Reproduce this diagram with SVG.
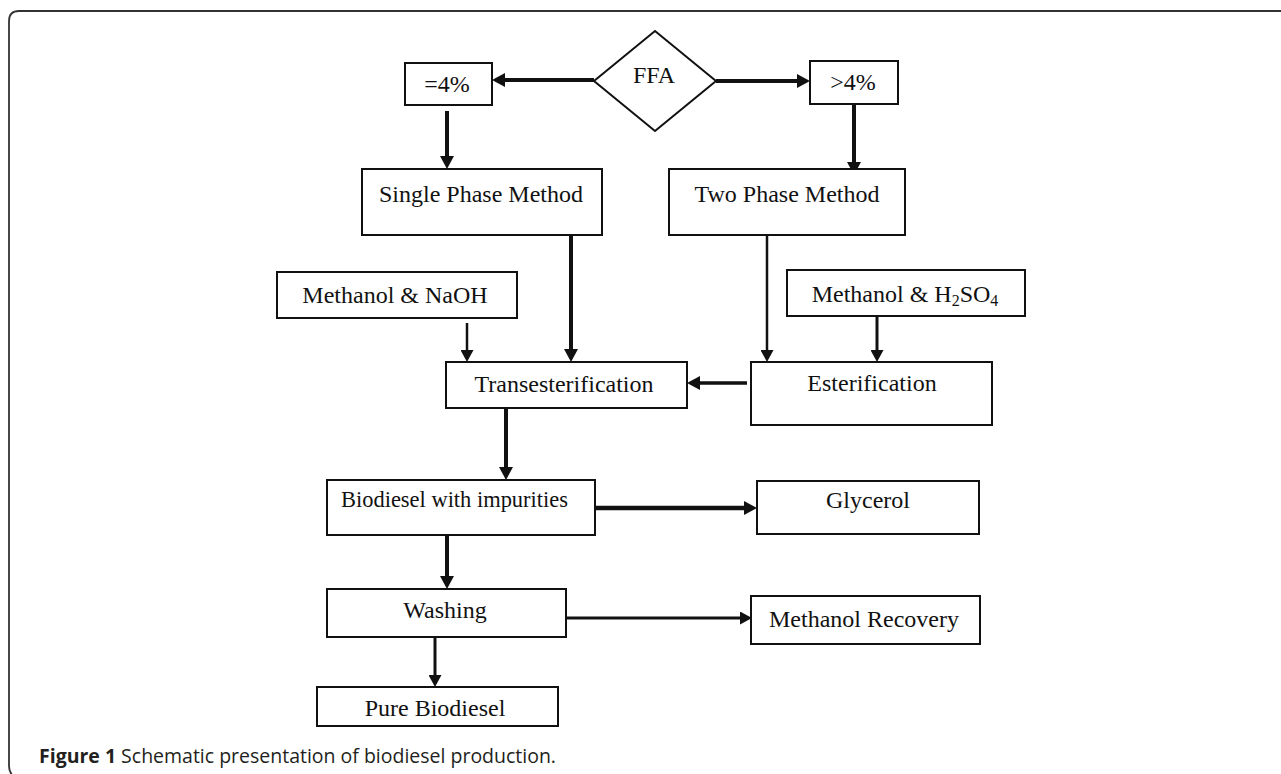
<svg xmlns="http://www.w3.org/2000/svg" width="1281" height="774" viewBox="0 0 1281 774">
<defs>
<style>
.box{fill:#fff;stroke:#111;stroke-width:2}
.t{font-family:"Liberation Serif","Times New Roman",serif;font-size:24px;fill:#111;text-anchor:middle}
.c{stroke:#111;fill:none}
.cap{font-family:"Open Sans","Liberation Sans",sans-serif;font-size:20px;fill:#231f20}
</style>
<marker id="ah" markerUnits="userSpaceOnUse" markerWidth="13" markerHeight="14" viewBox="0 0 13 14" refX="0" refY="7" orient="auto">
<path d="M0,0 L13,7 L0,14 Z" fill="#111"/>
</marker>
<marker id="as" markerUnits="userSpaceOnUse" markerWidth="12" markerHeight="13" viewBox="0 0 12 13" refX="0" refY="6.5" orient="auto">
<path d="M0,0 L12,6.5 L0,13 Z" fill="#111"/>
</marker>
</defs>
<rect width="1281" height="774" fill="#fff"/>
<path d="M1281,11 H19 Q9,11 9,21 V766 Q9,772 13,776" fill="none" stroke="#333" stroke-width="1.8"/>

<g id="connectors">
<line class="c" x1="594" y1="80" x2="505" y2="80" stroke-width="4" marker-end="url(#ah)"/>
<line class="c" x1="716" y1="81" x2="797" y2="81" stroke-width="4" marker-end="url(#ah)"/>
<line class="c" x1="447" y1="111" x2="447" y2="156" stroke-width="4" marker-end="url(#ah)"/>
<line class="c" x1="854" y1="104" x2="854" y2="162" stroke-width="4" marker-end="url(#ah)"/>
<line class="c" x1="571" y1="233" x2="571" y2="349" stroke-width="4" marker-end="url(#ah)"/>
<line class="c" x1="467" y1="323" x2="467" y2="350" stroke-width="2.5" marker-end="url(#as)"/>
<line class="c" x1="767" y1="233" x2="767" y2="350" stroke-width="2.5" marker-end="url(#as)"/>
<line class="c" x1="877" y1="315" x2="877" y2="350" stroke-width="3" marker-end="url(#as)"/>
<line class="c" x1="747" y1="383" x2="700" y2="383" stroke-width="3.5" marker-end="url(#ah)"/>
<line class="c" x1="506" y1="408" x2="506" y2="467" stroke-width="4" marker-end="url(#ah)"/>
<line class="c" x1="569" y1="508" x2="744" y2="508" stroke-width="4.5" marker-end="url(#ah)"/>
<line class="c" x1="447" y1="535" x2="447" y2="576" stroke-width="4" marker-end="url(#ah)"/>
<line class="c" x1="566" y1="618" x2="740" y2="618" stroke-width="3" marker-end="url(#as)"/>
<line class="c" x1="435" y1="637" x2="435" y2="675" stroke-width="3" marker-end="url(#as)"/>
</g>

<g id="ffa">
<polygon class="box" points="655,31 716,81 655,131 594,81"/>
<text class="t" x="654" y="83">FFA</text>
</g>
<g id="le4">
<rect class="box" x="405" y="63" width="87" height="42"/>
<text class="t" x="447" y="92">=4%</text>
</g>
<g id="gt4">
<rect class="box" x="810" y="61" width="88" height="43"/>
<text class="t" x="853" y="90">&gt;4%</text>
</g>
<g id="single">
<rect class="box" x="362" y="169" width="240" height="66"/>
<text class="t" x="481" y="202">Single Phase Method</text>
</g>
<g id="two">
<rect class="box" x="669" y="169" width="236" height="66"/>
<text class="t" x="787" y="202">Two Phase Method</text>
</g>
<g id="naoh">
<rect class="box" x="277" y="272" width="240" height="46"/>
<text class="t" x="395" y="303">Methanol &amp; NaOH</text>
</g>
<g id="h2so4">
<rect class="box" x="787" y="270" width="238" height="46"/>
<text class="t" x="905" y="302">Methanol &amp; H<tspan font-size="16" dy="4">2</tspan><tspan dy="-4">SO</tspan><tspan font-size="16" dy="4">4</tspan></text>
</g>
<g id="trans">
<rect class="box" x="446" y="362" width="241" height="46"/>
<text class="t" x="564" y="392">Transesterification</text>
</g>
<g id="ester">
<rect class="box" x="751" y="362" width="241" height="63"/>
<text class="t" x="872" y="391">Esterification</text>
</g>
<g id="biodiesel">
<rect class="box" x="327" y="480" width="268" height="55"/>
<text class="t" x="341" y="507" style="text-anchor:start" textLength="227" lengthAdjust="spacingAndGlyphs">Biodiesel with impurities</text>
</g>
<g id="glycerol">
<rect class="box" x="757" y="481" width="222" height="53"/>
<text class="t" x="868" y="508">Glycerol</text>
</g>
<g id="washing">
<rect class="box" x="327" y="589" width="239" height="48"/>
<text class="t" x="445" y="618">Washing</text>
</g>
<g id="recovery">
<rect class="box" x="751" y="596" width="229" height="48"/>
<text class="t" x="864" y="627">Methanol Recovery</text>
</g>
<g id="pure">
<rect class="box" x="317" y="687" width="241" height="39"/>
<text class="t" x="435" y="716">Pure Biodiesel</text>
</g>

<text class="cap" x="39" y="763" textLength="517" lengthAdjust="spacingAndGlyphs"><tspan font-weight="bold">Figure 1</tspan> Schematic presentation of biodiesel production.</text>
</svg>
